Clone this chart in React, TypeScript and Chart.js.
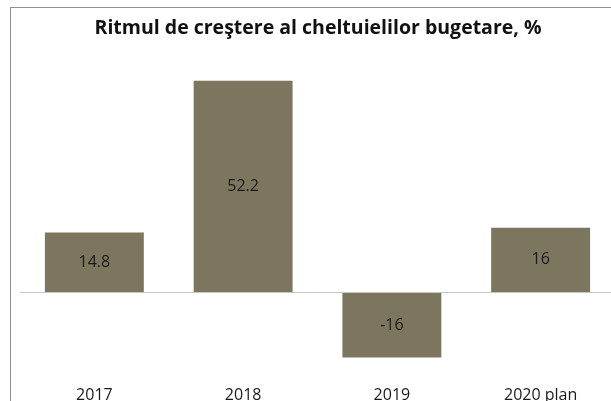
import React, { useEffect, useRef } from "react";
import { Chart, registerables } from "chart.js";

Chart.register(...registerables);

const categories = ["2017", "2018", "2019", "2020 plan"];
const values = [14.8, 52.2, -16, 16];
const valueLabels = ["14.8", "52.2", "-16", "16"];
const titleText = "Ritmul de creştere al cheltuielilor bugetare, %";

const barColor = "#7d765f";

const labelPlugin = {
  id: "barLabels",
  afterDatasetsDraw(chart: any) {
    const ctx = chart.ctx;
    const meta = chart.getDatasetMeta(0);
    ctx.save();
    ctx.font = "16px 'Open Sans', 'Noto Sans', sans-serif";
    ctx.fillStyle = "#1a1a1a";
    ctx.textAlign = "center";
    ctx.textBaseline = "middle";
    meta.data.forEach((bar: any, i: number) => {
      const y = (bar.y + bar.base) / 2;
      ctx.fillText(valueLabels[i], bar.x, y);
    });
    ctx.restore();
  },
};

export default function App() {
  const ref = useRef<HTMLCanvasElement>(null);
  useEffect(() => {
    if (!ref.current) return;
    const chart = new Chart(ref.current, {
      type: "bar",
      data: {
        labels: categories,
        datasets: [
          {
            data: values,
            backgroundColor: barColor,
            categoryPercentage: 1,
            barPercentage: 0.665,
          },
        ],
      },
      options: {
        responsive: false,
        animation: false,
        layout: { padding: { left: 20, right: 5, top: 49, bottom: 3 } },
        plugins: {
          legend: { display: false },
          tooltip: { enabled: false },
          title: { display: false },
        },
        scales: {
          x: {
            grid: { display: false, drawTicks: false },
            border: { display: false },
            ticks: {
              padding: 12,
              color: "#1a1a1a",
              font: { size: 16, family: "'Open Sans', 'Noto Sans', sans-serif" },
            },
          },
          y: {
            min: -20,
            max: 60,
            ticks: { display: false, stepSize: 20 },
            border: { display: false },
            grid: {
              drawTicks: false,
              lineWidth: 1,
              color: (c: any) => (c.tick && c.tick.value === 0 ? "#c6c6c6" : "rgba(0,0,0,0)"),
            },
          },
        },
      },
      plugins: [labelPlugin],
    });
    return () => chart.destroy();
  }, []);

  return (
    <div
      style={{
        position: "fixed",
        left: 0,
        top: 0,
        width: 611,
        height: 401,
        overflow: "hidden",
        background: "#fff",
      }}
    >
      <div
        style={{
          position: "absolute",
          left: 10,
          top: 7,
          width: 800,
          height: 600,
          borderTop: "1px solid #8f8f8f",
          borderLeft: "1px solid #8f8f8f",
        }}
      />
      <canvas ref={ref} width={620} height={420} style={{ position: "absolute", left: 0, top: 0 }} />
      <div
        style={{
          position: "absolute",
          left: 0,
          width: 636,
          top: 13,
          textAlign: "center",
          fontFamily: "'Open Sans', 'Noto Sans', sans-serif",
          fontWeight: 700,
          fontSize: 19.5,
          lineHeight: "28px",
          color: "#111",
        }}
      >
        {titleText}
      </div>
    </div>
  );
}
